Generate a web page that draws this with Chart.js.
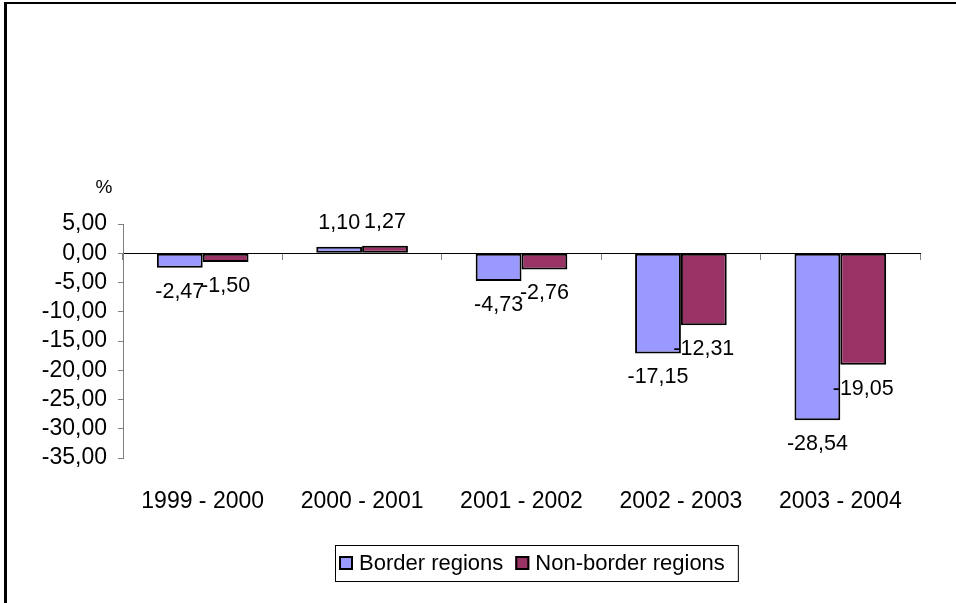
<!DOCTYPE html>
<html>
<head>
<meta charset="utf-8">
<script src="https://cdn.jsdelivr.net/npm/chart.js@4/dist/chart.umd.min.js"></script>
<style>
  html, body { margin: 0; padding: 0; background: #fff; }
  #wrap { width: 956px; height: 603px; }
</style>
</head>
<body>
<div id="wrap"><canvas id="myChart" width="956" height="603"></canvas></div>
<script>
let periods = ['1999 - 2000', '2000 - 2001', '2001 - 2002', '2002 - 2003', '2003 - 2004'];
let borderRegions = [-2.47, 1.10, -4.73, -17.15, -28.54];
let nonBorderRegions = [-1.50, 1.27, -2.76, -12.31, -19.05];
let seriesNames = ['Border regions', 'Non-border regions'];
let yMin = -35;
let yMax = 5;
let yStep = 5;
let unitLabel = '%';

const FONT = 'Arial, "Liberation Sans", sans-serif';

function fmt(v) {
    return v.toFixed(2).replace('.', ',');
}

// white page with the left/top frame lines
const frame = {
    id: 'frame',
    beforeDraw(chart) {
        const c = chart.ctx;
        c.save();
        c.fillStyle = '#fff';
        c.fillRect(0, 0, chart.width, chart.height);
        c.fillStyle = '#000';
        c.fillRect(4, 2, 3, chart.height);
        c.fillRect(4, 2, chart.width, 2);
        c.restore();
    }
};

// values written past the end of each bar
const valueLabels = {
    id: 'valueLabels',
    afterDatasetsDraw(chart) {
        const c = chart.ctx;
        c.save();
        c.font = '21.5px ' + FONT;
        c.fillStyle = '#000';
        c.textAlign = 'center';
        c.textBaseline = 'middle';
        chart.data.datasets.forEach((ds, i) => {
            chart.getDatasetMeta(i).data.forEach((bar, j) => {
                let v = ds.data[j];
                let y = v < 0 ? bar.y + 24 : bar.y - 24;
                c.fillText(fmt(v), bar.x, y);
            });
        });
        c.restore();
    }
};

// unit above the y axis and the boxed legend under the chart
const extras = {
    id: 'extras',
    afterDraw(chart) {
        const c = chart.ctx;
        const area = chart.chartArea;
        c.save();
        c.fillStyle = '#000';
        c.textBaseline = 'middle';
        c.textAlign = 'center';
        c.font = '19px ' + FONT;
        c.fillText(unitLabel, area.left - 19, area.top - 36);

        c.font = '22px ' + FONT;
        c.textAlign = 'left';
        const sq = 14, gap = 6, between = 12, padL = 4, padR = 13;
        const ds = chart.data.datasets;
        let widths = ds.map(d => c.measureText(d.label).width);
        let total = padL + padR;
        widths.forEach((w, i) => { total += sq + gap + w + (i > 0 ? between : 0); });
        const cx = 536.5, cy = chart.height - 40, h = 36;
        let left = Math.round(cx - total / 2);
        c.strokeStyle = '#000';
        c.lineWidth = 1;
        c.strokeRect(left + 0.5, Math.round(cy - h / 2) + 0.5, total, h);
        let x = left + padL;
        ds.forEach((d, i) => {
            if (i > 0) x += between;
            c.fillStyle = d.backgroundColor;
            c.fillRect(x, cy - sq / 2, sq, sq);
            c.lineWidth = 2;
            c.strokeRect(x + 1, cy - sq / 2 + 1, sq - 2, sq - 2);
            x += sq + gap;
            c.fillStyle = '#000';
            c.fillText(d.label, x, cy + 1);
            x += widths[i];
        });
        c.restore();
    }
};

const ctx = document.getElementById('myChart');

new Chart(ctx, {
    type: 'bar',
    data: {
        labels: periods,
        datasets: [{
            label: seriesNames[0],
            data: borderRegions,
            backgroundColor: '#9999FF',
            borderColor: '#000',
            borderWidth: 2,
            borderSkipped: false
        }, {
            label: seriesNames[1],
            data: nonBorderRegions,
            backgroundColor: '#993366',
            borderColor: '#000',
            borderWidth: 2,
            borderSkipped: false
        }]
    },
    options: {
        responsive: false,
        animation: false,
        events: [],
        categoryPercentage: 0.575,
        barPercentage: 1,
        layout: { padding: { left: 0, right: 36, top: 224, bottom: 0 } },
        plugins: {
            legend: { display: false },
            tooltip: { enabled: false }
        },
        scales: {
            x: {
                position: 'bottom',
                offset: true,
                grid: { display: false, drawTicks: false },
                border: { display: false },
                ticks: {
                    color: '#000',
                    font: { family: FONT, size: 23 },
                    padding: 30,
                    maxRotation: 0,
                    autoSkip: false
                },
                afterFit(scale) { scale.height = 145; }
            },
            // axis line through zero with the category tick marks
            x2: {
                axis: 'x',
                type: 'category',
                position: { y: 0 },
                offset: true,
                grid: {
                    offset: true,
                    drawOnChartArea: false,
                    tickLength: 6,
                    color: '#808080'
                },
                border: { color: '#000', width: 1 },
                ticks: { display: false }
            },
            y: {
                min: yMin,
                max: yMax,
                grid: {
                    drawOnChartArea: false,
                    tickLength: 5,
                    color: '#808080'
                },
                border: { color: '#808080', width: 1 },
                ticks: {
                    stepSize: yStep,
                    autoSkip: false,
                    color: '#000',
                    font: { family: FONT, size: 23 },
                    padding: 11,
                    callback: v => fmt(v)
                },
                afterFit(scale) { scale.width = 123; }
            }
        }
    },
    plugins: [frame, valueLabels, extras]
});
</script>
</body>
</html>
